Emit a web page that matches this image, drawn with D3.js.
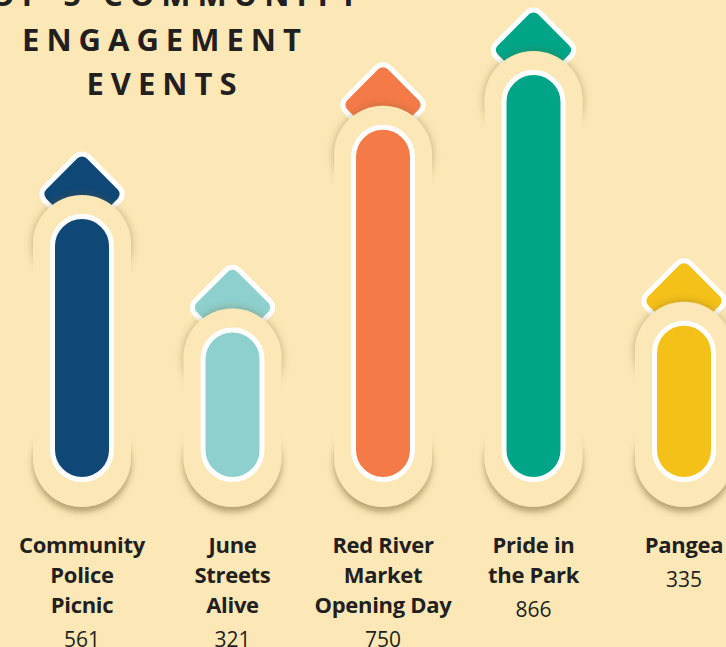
<!DOCTYPE html>
<html>
<head>
<meta charset="utf-8">
<script src="https://cdn.jsdelivr.net/npm/d3@7"></script>
<style>
body { margin: 0; background: #fbe8b6; }
svg { display: block; }
</style>
</head>
<body>
<svg id="chart" width="726" height="647"></svg>
<script>
var events = ["Community Police Picnic", "June Streets Alive", "Red River Market Opening Day", "Pride in the Park", "Pangea"];
var labelLines = [["Community", "Police", "Picnic"], ["June", "Streets", "Alive"], ["Red River", "Market", "Opening Day"], ["Pride in", "the Park"], ["Pangea"]];
var attendance = [561, 321, 750, 866, 335];
var colors = ["#0f4776", "#8dd0cd", "#f47a48", "#00a588", "#f4c119"];
var titleLines = ["TOP 5 COMMUNITY", "ENGAGEMENT", "EVENTS"];

var w = 726;
var h = 647;
var bg = "#fbe8b6";
var ink = "#231f20";

var svg = d3.select("#chart");
svg.append("rect").attr("width", w).attr("height", h).attr("fill", bg);

// shadows for the cream halo round each bar
var defs = svg.append("defs");
defs.append("filter")
    .attr("id", "shadowTop")
    .attr("x", "-50%").attr("y", "-50%").attr("width", "200%").attr("height", "200%")
  .append("feDropShadow")
    .attr("dx", 0).attr("dy", 0).attr("stdDeviation", 4)
    .attr("flood-color", "#6e5a2a").attr("flood-opacity", 0.45);
defs.append("filter")
    .attr("id", "shadowBottom")
    .attr("x", "-50%").attr("y", "-50%").attr("width", "200%").attr("height", "200%")
  .append("feDropShadow")
    .attr("dx", 0).attr("dy", 5).attr("stdDeviation", 3)
    .attr("flood-color", "#6e5a2a").attr("flood-opacity", 0.5);

var xScale = d3.scalePoint()
    .domain(events)
    .range([82, 684]);

var yScale = d3.scaleLinear()
    .domain([0, d3.max(attendance)])
    .range([479, 70]);

var barBottom = 482;     // bottom of the white pill
var pillW = 64;
var haloR = 49;
var border = 5;
var arrowSide = 62;

// title
var title = svg.append("text")
    .attr("text-anchor", "middle")
    .style("font-family", "'Open Sans', sans-serif")
    .style("font-weight", 700)
    .style("font-size", "31px")
    .style("letter-spacing", "7px")
    .attr("fill", ink);
title.selectAll("tspan")
    .data(titleLines)
    .join("tspan")
    .attr("x", 165)
    .attr("y", function(d, i) { return 6 + i * 44.5; })
    .text(function(d) { return d; });

for (let j = 0; j < events.length; j++) {
    let cx = xScale(events[j]);
    let barTop = yScale(attendance[j]);
    let g = svg.append("g").attr("class", "bar");

    // arrow head (rounded diamond)
    let ay = barTop - 20;
    g.append("rect")
        .attr("x", cx - arrowSide / 2)
        .attr("y", ay - arrowSide / 2)
        .attr("width", arrowSide)
        .attr("height", arrowSide)
        .attr("rx", 9)
        .attr("transform", `rotate(45, ${cx}, ${ay})`)
        .attr("fill", colors[j])
        .attr("stroke", "white")
        .attr("stroke-width", border);

    // halo: two circles and a plain middle
    let topC = barTop + 30;
    let botC = barBottom + 25 - haloR;
    g.append("circle")
        .attr("cx", cx).attr("cy", topC).attr("r", haloR)
        .attr("fill", bg)
        .attr("filter", "url(#shadowTop)");
    g.append("circle")
        .attr("cx", cx).attr("cy", botC).attr("r", haloR)
        .attr("fill", bg)
        .attr("filter", "url(#shadowBottom)");
    if (botC > topC) {
        g.append("rect")
            .attr("x", cx - haloR)
            .attr("y", topC)
            .attr("width", haloR * 2)
            .attr("height", botC - topC)
            .attr("fill", bg);
    }

    // the bar itself
    g.append("rect")
        .attr("x", cx - pillW / 2 + border / 2)
        .attr("y", barTop + border / 2)
        .attr("width", pillW - border)
        .attr("height", barBottom - barTop - border)
        .attr("rx", (pillW - border) / 2)
        .attr("fill", colors[j])
        .attr("stroke", "white")
        .attr("stroke-width", border);

    // labels
    let lab = svg.append("text")
        .attr("text-anchor", "middle")
        .style("font-family", "'Open Sans', sans-serif")
        .style("font-weight", 700)
        .style("font-size", "22px")
        .style("letter-spacing", "-0.3px")
        .attr("fill", ink);
    lab.selectAll("tspan")
        .data(labelLines[j])
        .join("tspan")
        .attr("x", cx)
        .attr("y", function(d, i) { return 553 + i * 30; })
        .text(function(d) { return d; });

    svg.append("text")
        .attr("x", cx)
        .attr("y", 553 + (labelLines[j].length - 1) * 30 + 34)
        .attr("text-anchor", "middle")
        .style("font-family", "'Open Sans', sans-serif")
        .style("font-size", "21px")
        .attr("fill", ink)
        .text(attendance[j]);
}
</script>
</body>
</html>
